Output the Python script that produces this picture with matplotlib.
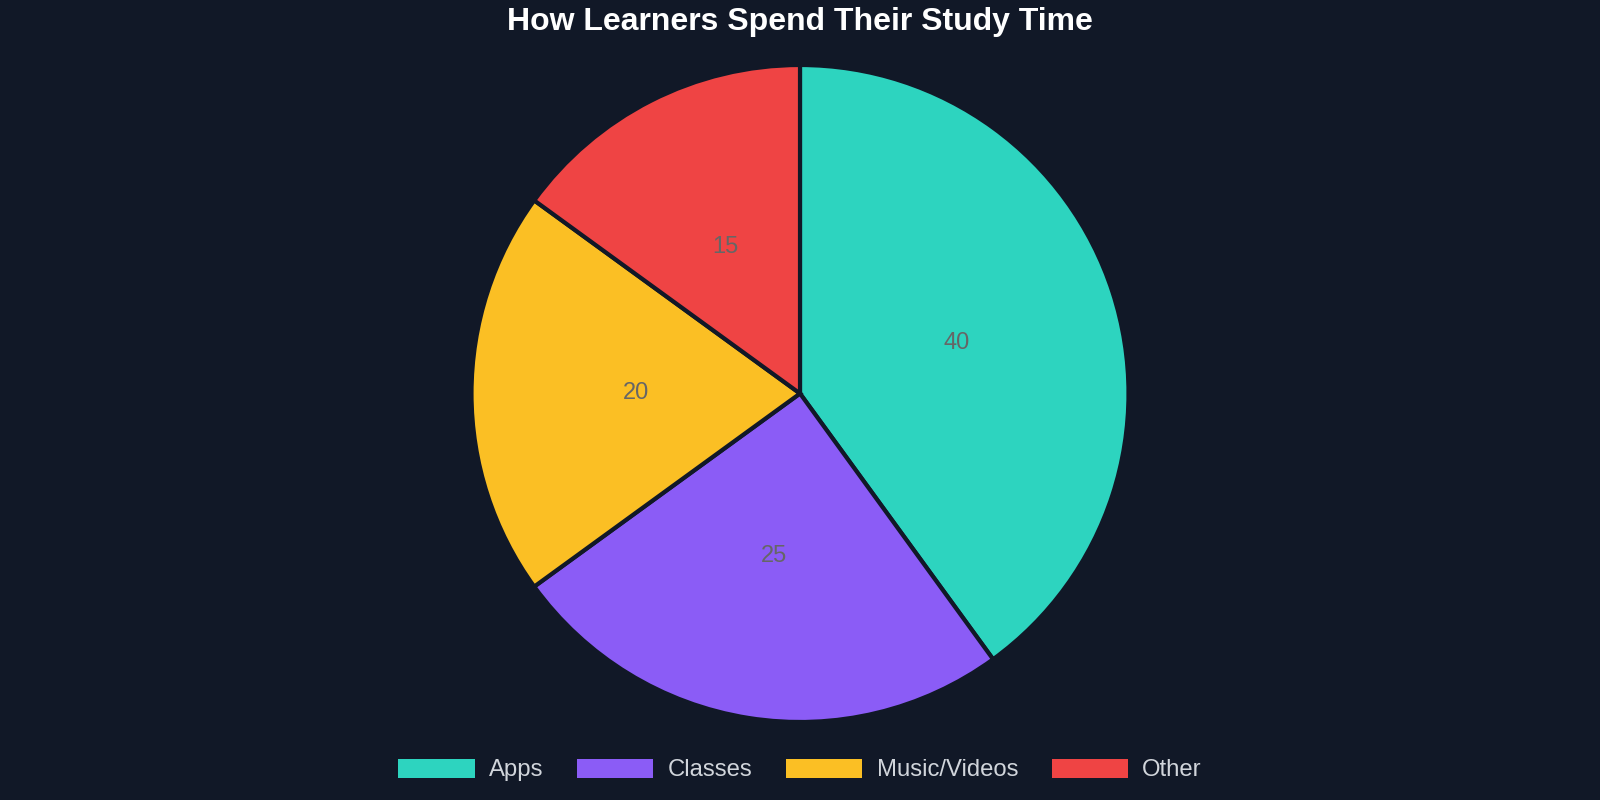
import matplotlib
matplotlib.use("Agg")

import matplotlib.pyplot as plt
from matplotlib.patches import Patch


LABELS = ["Apps", "Classes", "Music/Videos", "Other"]
VALUES = [40, 25, 20, 15]
COLORS = ["#2dd4bf", "#8b5cf6", "#fbbf24", "#ef4444"]

BG = "#111827"

plt.rcParams["font.family"] = ["Liberation Sans", "DejaVu Sans"]

fig = plt.figure(figsize=(16, 8), dpi=100, facecolor=BG)
r = 328.5
cy = 393.5
ax = fig.add_axes([0.5 - r / 1600, (800 - cy - r) / 800, 2 * r / 1600, 2 * r / 800])
ax.set_facecolor(BG)

wedges, texts = ax.pie(
    VALUES,
    colors=COLORS,
    startangle=90,
    counterclock=False,
    labels=[str(v) for v in VALUES],
    labeldistance=0.5,
    wedgeprops=dict(edgecolor=BG, linewidth=3),
    textprops=dict(color="#666666", fontsize=17, ha="center", va="center"),
)
ax.set_xlim(-1, 1)
ax.set_ylim(-1, 1)
ax.set_aspect("equal")
ax.axis("off")

fig.text(0.5, 1 - 22 / 800, "How Learners Spend Their Study Time",
         color="white", fontsize=23, fontweight="bold", ha="center", va="center")

handles = [Patch(facecolor=c, edgecolor="none") for c in COLORS]
fig.legend(handles, LABELS, loc="center", bbox_to_anchor=(0.5, 1 - 770 / 800),
           ncol=4, frameon=False, fontsize=17.2, labelcolor="#d1d5db",
           handlelength=3.2, handleheight=0.85, handletextpad=0.6, columnspacing=1.4)

fig.savefig("out.png", facecolor=BG)
